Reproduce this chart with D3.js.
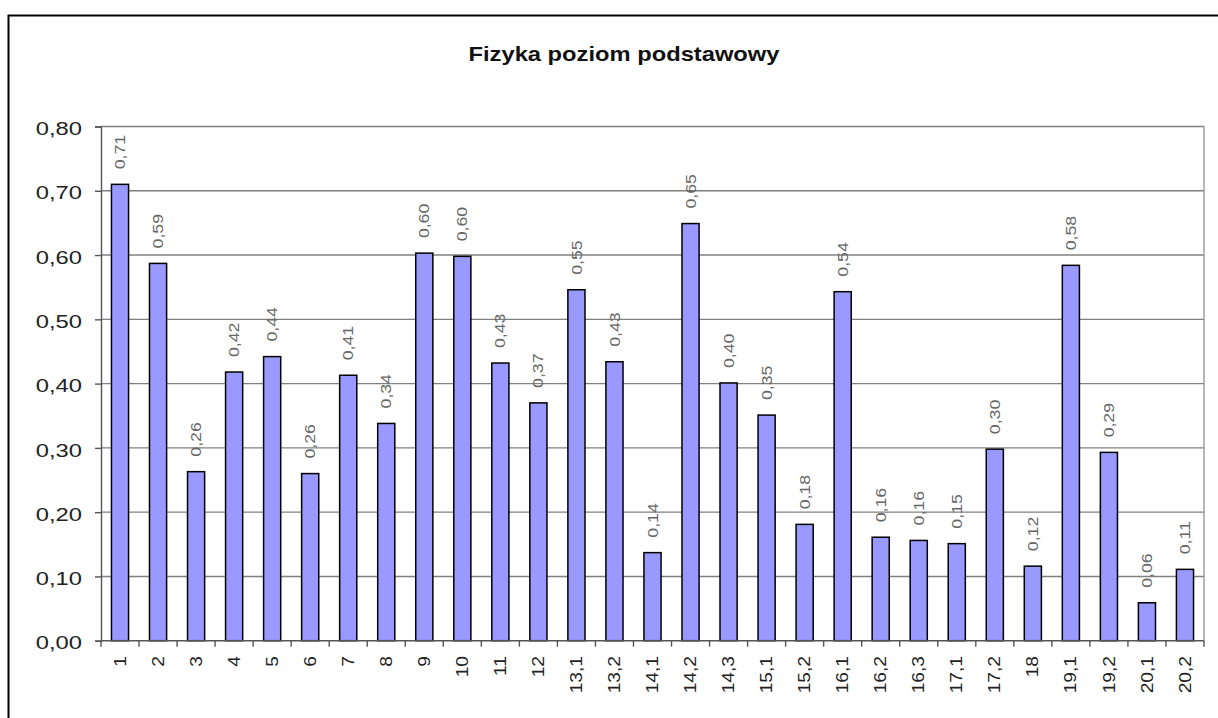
<!DOCTYPE html>
<html>
<head>
<meta charset="utf-8">
<script src="https://cdn.jsdelivr.net/npm/d3@7"></script>
<style>
  html, body { margin: 0; padding: 0; background: #fff; }
  svg { display: block; font-family: "Liberation Sans", Arial, sans-serif; }
</style>
</head>
<body>
<svg id="chart" width="1218" height="718"></svg>
<script>
const title = "Fizyka poziom podstawowy";
const categories = ["1","2","3","4","5","6","7","8","9","10","11","12","13.1","13.2","14.1","14.2","14.3","15.1","15.2","16.1","16.2","16.3","17.1","17.2","18","19.1","19.2","20.1","20.2"];
const values = [0.71,0.587,0.263,0.418,0.442,0.26,0.413,0.338,0.603,0.598,0.432,0.37,0.546,0.434,0.137,0.649,0.401,0.351,0.181,0.543,0.161,0.156,0.151,0.298,0.116,0.584,0.293,0.059,0.111];
const yTicks = [0,0.1,0.2,0.3,0.4,0.5,0.6,0.7,0.8];

const svg = d3.select("#chart");
const L = 101, R = 1204, T = 126.5, B = 640.7;

const locale = d3.formatLocale({decimal: ",", thousands: " ", grouping: [3], currency: ["", ""]});
const fmt = locale.format(".2f");

// outer chart border
svg.append("rect").attr("x", 8.5).attr("y", 15.5).attr("width", 1240).attr("height", 740)
  .attr("fill", "#fff").attr("stroke", "#000").attr("stroke-width", 2);

const x = d3.scaleBand().domain(categories).range([L, R]).paddingInner(0.55).paddingOuter(0.275);
const y = d3.scaleLinear().domain([0, 0.8]).range([B, T]);
const step = x.step();

// gridlines
svg.append("g").selectAll("line").data(yTicks.slice(1)).join("line")
  .attr("x1", L).attr("x2", R).attr("y1", d => y(d)).attr("y2", d => y(d))
  .attr("stroke", "#808080").attr("stroke-width", 1.4);
// right border of plot
svg.append("line").attr("x1", R).attr("x2", R).attr("y1", T).attr("y2", B)
  .attr("stroke", "#999").attr("stroke-width", 1.4);

// y axis
const yAxis = svg.append("g").attr("transform", `translate(${L},0)`)
  .call(d3.axisLeft(y).tickValues(yTicks).tickSize(6).tickPadding(0).tickFormat(d => fmt(d)));
yAxis.select(".domain").attr("stroke", "#555").attr("stroke-width", 1.4);
yAxis.selectAll(".tick line").attr("stroke", "#555").attr("stroke-width", 1.4);
yAxis.selectAll(".tick text")
  .attr("x", null).attr("dy", null)
  .attr("font-size", 19).attr("fill", "#222").attr("text-anchor", "end")
  .attr("dominant-baseline", "central")
  .attr("transform", "translate(-19,2) scale(1.25,1)");

// bars
svg.append("g").selectAll("rect").data(categories).join("rect")
  .attr("x", d => x(d)).attr("width", x.bandwidth())
  .attr("y", (d, i) => y(values[i])).attr("height", (d, i) => B - y(values[i]))
  .attr("fill", "#9999ff").attr("stroke", "#000").attr("stroke-width", 1.5);

// x axis line
svg.append("line").attr("x1", L).attr("x2", R).attr("y1", B).attr("y2", B)
  .attr("stroke", "#555").attr("stroke-width", 1.4);
// x ticks at category boundaries
const bounds = categories.map(c => x(c) - (step - x.bandwidth()) / 2).concat([R]);
svg.append("g").selectAll("line").data(bounds).join("line")
  .attr("x1", d => d).attr("x2", d => d).attr("y1", B).attr("y2", B + 6)
  .attr("stroke", "#555").attr("stroke-width", 1.4);

// x labels
svg.append("g").selectAll("text").data(categories).join("text")
  .attr("transform", d => `translate(${x(d) + x.bandwidth() / 2},656) rotate(-90) scale(1.2,1)`)
  .attr("text-anchor", "end").attr("dy", "0.35em")
  .attr("font-size", 16).attr("fill", "#222")
  .text(d => d.replace(".", ","));

// value labels
svg.append("g").selectAll("text").data(categories).join("text")
  .attr("transform", (d, i) => `translate(${x(d) + x.bandwidth() / 2},${y(values[i]) - 15}) rotate(-90) scale(1.22,1)`)
  .attr("text-anchor", "start").attr("dy", "0.35em")
  .attr("font-size", 14.5).attr("fill", "#666")
  .text((d, i) => fmt(values[i]));

// title
svg.append("text")
  .attr("transform", "translate(624,61) scale(1.13,1)")
  .attr("text-anchor", "middle").attr("font-size", 21).attr("font-weight", "bold").attr("fill", "#111")
  .text(title);
</script>
</body>
</html>
